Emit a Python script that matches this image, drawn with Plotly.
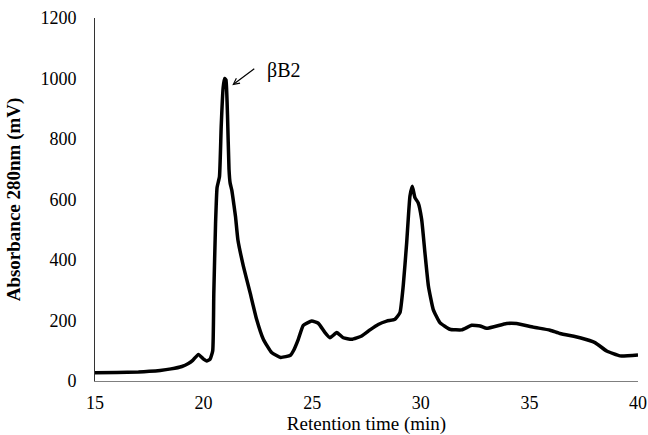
import plotly.graph_objects as go

retention_time = [15.0, 16.0, 17.0, 17.5, 18.0, 18.5, 19.0, 19.3, 19.5, 19.76, 20.0, 20.14, 20.3,
                  20.42, 20.47, 20.55, 20.62, 20.73, 20.81, 20.9, 20.97, 21.03, 21.1, 21.17, 21.22,
                  21.3, 21.4, 21.47, 21.58, 21.83, 22.14, 22.44, 22.75, 23.13, 23.55, 24.0, 24.13,
                  24.36, 24.59, 24.98, 25.28, 25.59, 25.82, 26.13, 26.43, 26.82, 27.28, 27.66, 28.04,
                  28.43, 28.81, 29.04, 29.19, 29.35, 29.5, 29.61, 29.73, 29.88, 30.04, 30.19, 30.35,
                  30.57, 30.88, 31.34, 31.88, 32.34, 32.73, 33.03, 33.95, 34.41, 35.18, 35.95, 36.41,
                  37.33, 38.02, 38.56, 39.17, 40.0]
absorbance = [27, 28, 30, 32, 35, 40, 48, 58, 68, 88, 72, 66, 72,
              100, 290, 520, 640, 675, 840, 970, 1000, 995, 880, 700, 655,
              630, 580, 543, 466, 380, 292, 204, 138, 94, 78, 85, 99,
              138, 184, 198, 191, 160, 143, 160, 143, 138, 149, 169, 187,
              198, 204, 226, 314, 457, 611, 644, 606, 589, 534, 424, 314,
              237, 193, 171, 169, 184, 182, 174, 190, 190, 178, 168, 157,
              143, 127, 99, 83, 86]

x_ticks = [15, 20, 25, 30, 35, 40]
y_ticks = [0, 200, 400, 600, 800, 1000, 1200]
peak_label = "βB2"
peak_label_pos = (23.72, 1027)
peak_arrow_head = (21.32, 978)

FONT = "Liberation Serif, Times New Roman, serif"

fig = go.Figure()
fig.add_trace(go.Scatter(
    x=retention_time, y=absorbance, mode="lines",
    line=dict(color="black", width=3.5, shape="spline", smoothing=0.4),
    showlegend=False, hoverinfo="skip"))

fig.add_annotation(x=peak_label_pos[0], y=peak_label_pos[1], text=peak_label,
                   showarrow=False, xanchor="center", yanchor="middle",
                   font=dict(family=FONT, size=20, color="black"))
fig.add_annotation(x=peak_arrow_head[0], y=peak_arrow_head[1], text=" ",
                   showarrow=True, arrowhead=5, arrowsize=1, arrowwidth=1.2,
                   arrowcolor="black", ax=24, ay=-18,
                   font=dict(family=FONT, size=2, color="black"))

fig.update_layout(
    width=648, height=435,
    margin=dict(l=95, r=10, t=18, b=54),
    paper_bgcolor="white", plot_bgcolor="white",
    font=dict(family=FONT, size=18, color="black"),
    xaxis=dict(range=[15, 40], tickvals=x_ticks, showgrid=False, zeroline=False,
               showline=True, linecolor="#7f7f7f", linewidth=1, automargin=False,
               ticks="outside", ticklen=5, tickcolor="rgba(0,0,0,0)",
               tickfont=dict(family=FONT, size=18, color="black"),
               title=dict(text="Retention time (min)", standoff=3,
                          font=dict(family=FONT, size=19, color="black"))),
    yaxis=dict(range=[0, 1200], tickvals=y_ticks, showgrid=False, zeroline=False,
               showline=True, linecolor="#333333", linewidth=1, automargin=False,
               ticks="outside", ticklen=14, tickcolor="rgba(0,0,0,0)",
               tickfont=dict(family=FONT, size=18, color="black"),
               title=dict(text="<b>Absorbance 280nm (mV)</b>", standoff=14,
                          font=dict(family=FONT, size=19, color="black"))),
)

fig.write_html("out.html")
